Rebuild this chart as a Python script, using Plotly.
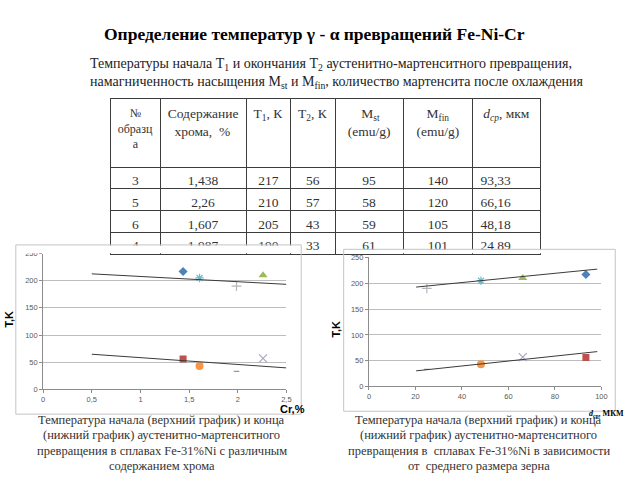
import plotly.graph_objects as go

# ---------------- data ----------------
samples = ["3", "5", "6", "4"]
chromium = [1.438, 2.26, 1.607, 1.987]          # Cr, %
t_start = [217, 210, 205, 190]                  # T1, K
t_end = [56, 57, 43, 33]                        # T2, K
m_st = [95, 58, 59, 61]                         # Mst, emu/g
m_fin = [140, 120, 105, 101]                    # Mfin, emu/g
grain = [93.33, 66.16, 48.18, 24.89]            # d_cp, mkm

NB = "\u00a0"
header_labels = [NB * 4 + "№<br>образц<br>" + NB * 5 + "а",
                 "Содержание<br>" + NB * 2 + "хрома," + NB + NB + "%",
                 "T<sub>1</sub>," + NB + "К", "T<sub>2</sub>," + NB + "К",
                 NB * 4 + "M<sub>st</sub><br>(emu/g)", NB * 3 + "M<sub>fin</sub><br>(emu/g)",
                 "<i>d</i><sub><i>cp</i></sub>," + NB + "мкм"]

# trend lines (end points)
trend_cr_x = [0.5, 2.5]
trend_cr_start = [212.6, 193.3]
trend_cr_end = [64.6, 39.5]
trend_d_x = [20.3, 98.2]
trend_d_start = [192.6, 227.4]
trend_d_end = [30.3, 67.6]

# ---------------- styles ----------------
sym_start = ["diamond", "triangle-up", "asterisk-open", "cross-thin-open"]
col_start = ["#4f81bd", "#9bbb59", "#6fb7cc", "#b4b6bc"]
size_start = [7, 8, 7, 7]
sym_end = ["square", "x-thin-open", "circle", "line-ew-open"]
col_end = ["#c0504d", "#aaa6c8", "#f79646", "#8f98b4"]
size_end = [7, 8, 8, 4]

W, H = 640, 480
def px(v):
    return v / W
def py(v):
    return 1 - v / H

SERIF = "Liberation Serif"
SANS = "Liberation Sans"

def fmt(v):
    return f"{v:g}".replace(".", ",")

fig = go.Figure()

# ---------------- table ----------------
fig.add_trace(go.Table(
    domain=dict(x=[px(110), px(545.5)], y=[py(258), py(96)]),
    columnwidth=[50, 87, 45, 45, 69, 70, 69],
    header=dict(values=header_labels, height=69,
                align="center", fill_color="white",
                line=dict(color="#3c3c3c", width=1),
                font=dict(family=SERIF, size=[12] + [13.5] * 6, color="#333333")),
    cells=dict(values=[samples, [fmt(v) for v in chromium], t_start, t_end, m_st, m_fin,
                       [fmt(v) for v in grain]],
               height=21.7,
               align=["center"] * 6 + ["left"], fill_color="white",
               line=dict(color="#3c3c3c", width=1),
               font=dict(family=SERIF, size=13.5, color="#333333")),
))

# ---------------- scatter charts ----------------
for i in range(len(samples)):
    for (xs, xa, ya) in ((chromium, "x", "y"), (grain, "x2", "y2")):
        for ys, sym, col, sz in ((t_start, sym_start, col_start, size_start),
                                 (t_end, sym_end, col_end, size_end)):
            open_sym = sym[i].endswith("open")
            fig.add_trace(go.Scatter(
                x=[xs[i]], y=[ys[i]], xaxis=xa, yaxis=ya, mode="markers",
                marker=dict(symbol=sym[i], color=col[i], size=sz[i],
                            line=dict(color=col[i], width=1.2 if open_sym else 0)),
                showlegend=False, hoverinfo="skip"))

for xs, ys, xa, ya in ((trend_cr_x, trend_cr_start, "x", "y"), (trend_cr_x, trend_cr_end, "x", "y"),
                       (trend_d_x, trend_d_start, "x2", "y2"), (trend_d_x, trend_d_end, "x2", "y2")):
    fig.add_trace(go.Scatter(x=xs, y=ys, xaxis=xa, yaxis=ya, mode="lines",
                             line=dict(color="#3a3a3a", width=1),
                             showlegend=False, hoverinfo="skip"))

tickfont = dict(family=SANS, size=7.5, color="#595959")
axis_common = dict(showline=True, linecolor="#8c8c8c", linewidth=1, ticks="outside",
                   ticklen=3, tickcolor="#8c8c8c", tickfont=tickfont, zeroline=False)

fig.update_layout(
    xaxis=dict(domain=[px(41.7), px(288)], range=[0, 2.5], dtick=0.5, showgrid=False,
               anchor="y", **axis_common),
    yaxis=dict(domain=[py(392.7), py(254.3)], range=[0, 250], dtick=50, showgrid=True,
               gridcolor="#bdbdbd", gridwidth=1, anchor="x", **axis_common),
    xaxis2=dict(domain=[px(371.6), px(607)], range=[0, 100], dtick=20, showgrid=False,
                anchor="y2", **axis_common),
    yaxis2=dict(domain=[py(389.8), py(258.3)], range=[0, 250], dtick=50, showgrid=True,
                gridcolor="#bdbdbd", gridwidth=1, anchor="x2", **axis_common),
)

# ---------------- frames and covers ----------------
shapes = []
for (x0, y0, x1, y1) in ((14, 245.5, 303, 418), (346, 250, 621, 415)):
    shapes.append(dict(type="rect", xref="paper", yref="paper", layer="above",
                       x0=px(x0 + 0.5), x1=px(x1 - 0.5), y0=py(y0 + 0.5), y1=py(254),
                       fillcolor="white", line=dict(width=0)))
    shapes.append(dict(type="rect", xref="paper", yref="paper", layer="above",
                       x0=px(x0), x1=px(x1), y0=py(y1), y1=py(y0),
                       fillcolor="rgba(0,0,0,0)", line=dict(color="#c4c4c4", width=1)))

annotations = []
def ann(x, y, text, size, family=SERIF, color="#1a1a1a", xanchor="center", angle=0):
    annotations.append(dict(x=px(x), y=py(y), xref="paper", yref="paper", text=text,
                            showarrow=False, xanchor=xanchor, yanchor="middle",
                            textangle=angle,
                            font=dict(family=family, size=size, color=color)))

ann(316, 31, "<b>Определение температур γ - α превращений Fe-Ni-Cr</b>", 17.5, color="#000000")
ann(87, 62, "Температуры начала T<sub>1</sub> и окончания T<sub>2</sub> аустенитно-мартенситного превращения,",
    14, xanchor="left", color="#222222")
ann(87, 80, "намагниченность насыщения M<sub>st</sub> и M<sub>fin</sub>, количество мартенсита после охлаждения",
    14, xanchor="left", color="#222222")

ann(6.7, 321, "<b>T,K</b>", 11, family=SANS, color="#000000", angle=-90)
ann(338, 331, "<b>T,K</b>", 11, family=SANS, color="#000000", angle=-90)
ann(294, 413, "<b>Cr,%</b>", 11, family=SANS, color="#000000")
ann(612, 418, "<b><i>d</i><sub>ср</sub>, МКМ</b>", 8, color="#000000")

cap_left = ["Температура начала (верхний график) и конца",
            "(нижний график) аустенитно-мартенситного",
            "превращения в сплавах Fe-31%Ni с различным",
            "содержанием хрома"]
cap_right = ["Температура начала (верхний график) и конца",
             "(нижний график) аустенитно-мартенситного",
             "превращения в  сплавах Fe-31%Ni в зависимости",
             "от  среднего размера зерна"]
for k, (a, b) in enumerate(zip(cap_left, cap_right)):
    yy = 424 + k * 15.7
    ann(162, yy, a, 12.5, color="#333333")
    ann(483, yy, b, 12.5, color="#333333")

fig.update_layout(width=W, height=H, margin=dict(l=0, r=0, t=0, b=0),
                  paper_bgcolor="white", plot_bgcolor="white", showlegend=False,
                  separators=", ", shapes=shapes, annotations=annotations)

fig.write_html("out.html", config={"displayModeBar": False})
